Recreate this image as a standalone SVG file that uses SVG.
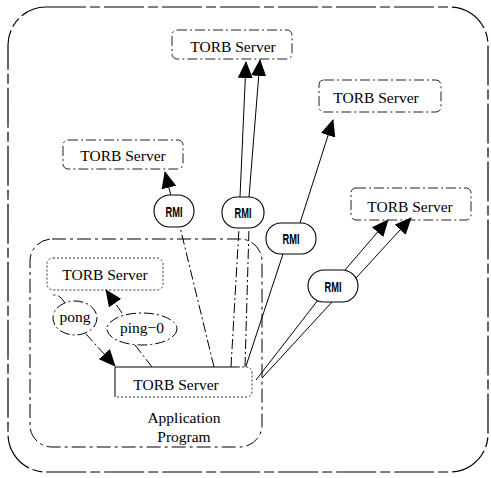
<svg xmlns="http://www.w3.org/2000/svg" width="491" height="478" viewBox="0 0 491 478">
<style>
.srv{fill:none;stroke:#222;stroke-width:1;stroke-dasharray:10 3 2 3}
.dot{fill:none;stroke:#333;stroke-width:1;stroke-dasharray:2 2}
.t{font-family:"Liberation Serif","Times New Roman",serif;font-size:15.5px;fill:#000;text-anchor:middle}
.rmi{fill:#fff;stroke:#000;stroke-width:1.1}
.rt{font-family:"Liberation Sans",Arial,sans-serif;font-size:15px;font-weight:bold;fill:#000;text-anchor:middle}
.ln{fill:none;stroke:#000;stroke-width:1}
.dd{fill:none;stroke:#000;stroke-width:1;stroke-dasharray:10 3 2 3}
</style>
<defs>
<marker id="ah" markerUnits="userSpaceOnUse" markerWidth="17" markerHeight="15" viewBox="0 0 17 15" refX="16" refY="7.5" orient="auto">
<path d="M0,0 L17,7.5 L0,15 Z" fill="#000"/>
</marker>
</defs>
<rect width="491" height="478" fill="#fff"/>
<g id="outer">
<rect x="8" y="7" width="480" height="465" rx="38" fill="none" stroke="#000" stroke-width="1.2" stroke-dasharray="40 4 10 4"/>
</g>
<g id="app">
<rect x="30" y="239" width="232" height="208" rx="22" fill="none" stroke="#000" stroke-width="1" stroke-dasharray="14 4 3 4"/>
<text class="t" x="184" y="423">Application</text>
<text class="t" x="184" y="442">Program</text>
</g>
<g id="srv-top">
<rect class="srv" x="172" y="30" width="120" height="29" rx="5"/>
<text class="t" x="233" y="52">TORB Server</text>
</g>
<g id="srv-upright">
<rect class="srv" x="319" y="80" width="122" height="32" rx="5"/>
<text class="t" x="376" y="103">TORB Server</text>
</g>
<g id="srv-left">
<rect class="srv" x="63" y="140" width="120" height="29" rx="5"/>
<text class="t" x="123" y="161">TORB Server</text>
</g>
<g id="srv-right">
<rect class="srv" x="351" y="188" width="120" height="32" rx="5"/>
<text class="t" x="410" y="212">TORB Server</text>
</g>
<g id="srv-inner">
<rect class="dot" x="47" y="258" width="116" height="32" rx="6"/>
<text class="t" x="105" y="280">TORB Server</text>
</g>
<g id="srv-app">
<path d="M238,367 L246,367 Q252,367 252,373 L252,391 Q252,397 246,397 L115,397" class="dot"/>
<path d="M238,367 L115,367 L115,397" class="ln" stroke-width="1.3"/>
<text class="t" x="176" y="390">TORB Server</text>
</g>
<g id="pong">
<ellipse cx="75" cy="318" rx="22" ry="17" class="dd"/>
<text class="t" x="75" y="322">pong</text>
</g>
<g id="ping0">
<ellipse cx="142" cy="329" rx="35" ry="16" class="dd"/>
<text class="t" x="142" y="333">ping−0</text>
</g>
<g id="connectors">
<path class="dd" d="M86,334 L115,366" marker-end="url(#ah)"/>
<path class="dd" d="M122,313 L106,290" marker-end="url(#ah)"/>
<path class="dd" d="M65,303 Q58,292 52,296"/>
<path class="dd" d="M135,345 L152,367"/>
<path class="dd" d="M214,367 L180,227"/>
<path class="ln" d="M171,196 L165,172" marker-end="url(#ah)"/>
<path class="dd" d="M231,367 L239,228"/>
<path class="ln" d="M240,197 L246,62" marker-end="url(#ah)"/>
<path class="dd" d="M245,367 L249,228"/>
<path class="ln" d="M249,197 L260,60" marker-end="url(#ah)"/>
<path class="ln" d="M246,366 L283,254"/>
<path class="ln" d="M300,223 L333,120" marker-end="url(#ah)"/>
<path class="ln" d="M256,380 L318,300"/>
<path class="ln" d="M262,378 L332,302"/>
<path class="ln" d="M345,270 L388,220" marker-end="url(#ah)"/>
<path class="ln" d="M356,278 L411,218" marker-end="url(#ah)"/>
</g>
<g id="rmi1"><rect class="rmi" x="154" y="195" width="40" height="32" rx="16"/><text class="rt" transform="translate(174,216.5) scale(0.62,1)">RMI</text></g>
<g id="rmi2"><rect class="rmi" x="222" y="197" width="42" height="31" rx="15"/><text class="rt" transform="translate(243,218) scale(0.62,1)">RMI</text></g>
<g id="rmi3"><rect class="rmi" x="266" y="223" width="50" height="31" rx="15"/><text class="rt" transform="translate(291,244) scale(0.62,1)">RMI</text></g>
<g id="rmi4"><rect class="rmi" x="308" y="270" width="50" height="32" rx="16"/><text class="rt" transform="translate(333,291.5) scale(0.62,1)">RMI</text></g>
</svg>
